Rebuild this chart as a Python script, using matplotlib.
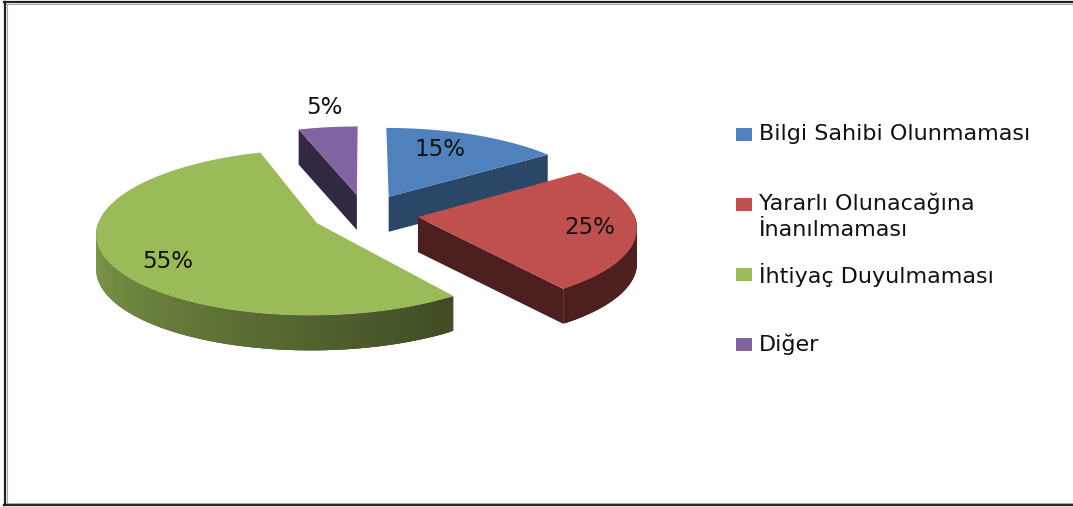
import numpy as np
import matplotlib
matplotlib.use("Agg")
from matplotlib import pyplot as plt
from matplotlib.patches import Rectangle

categories = ["Bilgi Sahibi Olunmaması", "Yararlı Olunacağına\nİnanılmaması", "İhtiyaç Duyulmaması", "Diğer"]
values = [15, 25, 55, 5]
colors = ["#4F81BD", "#C0504D", "#9BBB59", "#8064A2"]

# where things sit on the canvas, in pixels
label_pos = [(440, 150), (590, 228), (168, 262), (324, 107)]
legend_y = [134.5, 204.5, 274.5, 344.5]
text_y = [134, 216.5, 275, 344]
cx, cy = 365, 214
rx, ry = 216, 80
persp = 0.11
depth = 35
# wall brightness at the two ends of each slice's arc
wall_shade = [(0.55, 0.55), (0.40, 0.42), (1.10, 0.40), (0.40, 0.40)]
draw_order = [3, 0, 2, 1]


def project(u, v):
    w = 1 + persp * v
    return cx + rx * u / w, cy - ry * v / w


fig = plt.figure(figsize=(10.73, 5.07), dpi=100)
ax = fig.add_axes([0, 0, 1, 1])
wedges, _ = ax.pie(values, explode=[0.247] * 4, startangle=90, counterclock=False, colors=colors)

z = 2
for i in draw_order:
    w = wedges[i]
    t = np.radians(np.linspace(w.theta1, w.theta2, 160))
    u0, v0 = w.center
    ax_, ay_ = project(u0, v0)
    px, py = project(u0 + np.cos(t), v0 + np.sin(t))
    base = np.array(matplotlib.colors.to_rgb(colors[i]))
    # radial walls, only the ones facing us
    for j, turn in ((0, -np.pi / 2), (-1, np.pi / 2)):
        if np.sin(t[j] + turn) < -0.01:
            ax.fill([ax_, px[j], px[j], ax_], [ay_, py[j], py[j] + depth, ay_ + depth],
                    color=base * min(wall_shade[i]), lw=0, zorder=z)
    # outer wall, shaded along the arc; segments overlap to hide seams
    shade = np.clip(np.linspace(wall_shade[i][0], wall_shade[i][1], len(t)), 0, 1)
    for k in range(len(t) - 3):
        if np.sin(t[k]) < 0.02:
            ax.fill([px[k], px[k + 3], px[k + 3], px[k]], [py[k], py[k + 3], py[k + 3] + depth, py[k] + depth],
                    color=base * shade[k], lw=0, zorder=z)
    ax.fill(np.r_[ax_, px], np.r_[ay_, py], color=colors[i], lw=0, zorder=z)
    w.remove()
    z += 1

for v, (x, y) in zip(values, label_pos):
    ax.text(x, y, f"{v}%", fontsize=16.5, color="#111111", ha="center", va="center", zorder=10)

for c, name, sy, ty in zip(colors, categories, legend_y, text_y):
    ax.add_patch(Rectangle((736, sy - 6.5), 16, 13, facecolor=c, edgecolor="none"))
    ax.text(759, ty, name, fontsize=16, color="#111111", va="center", linespacing=1.35)

# window border, no line on the right side
ax.plot([4, 1073], [2, 2], color="#222222", lw=1.6)
ax.plot([6, 1073], [3.8, 3.8], color="#aaaaaa", lw=0.8)
ax.plot([5, 5], [2, 505], color="#222222", lw=1.6)
ax.plot([6.6, 6.6], [4, 503], color="#aaaaaa", lw=0.8)
ax.plot([4, 1073], [504.8, 504.8], color="#222222", lw=1.6)
ax.plot([6, 1073], [503.2, 503.2], color="#aaaaaa", lw=0.8)

ax.set_aspect("auto")
ax.set_xlim(0, 1073)
ax.set_ylim(507, 0)
ax.axis("off")
fig.savefig("out.png", dpi=100)
